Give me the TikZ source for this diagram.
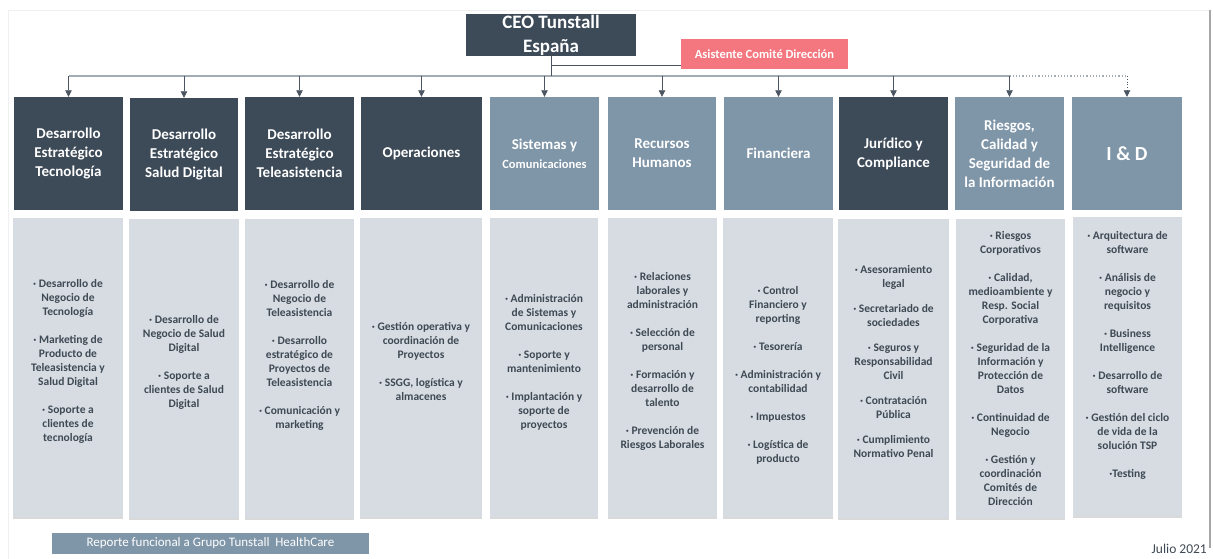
\documentclass[tikz,border=0pt]{standalone}
\usepackage{fontspec}
\setmainfont{Carlito}
\usetikzlibrary{arrows.meta,shadows}
\definecolor{tdark}{HTML}{3D4A58}
\definecolor{tlight}{HTML}{7F95A8}
\definecolor{tbody}{HTML}{D6DCE2}
\definecolor{ttext}{HTML}{3F4954}
\definecolor{tline}{HTML}{4A5561}
\definecolor{tbus}{HTML}{A3ABB3}
\definecolor{tsalmon}{HTML}{F4777F}

\begin{document}
\begin{tikzpicture}[x=1pt,y=-1pt,
	hd/.style={minimum height=113pt, inner sep=0pt, align=center, text=white, font=\bfseries\fontsize{15}{19}\selectfont},
	hdark/.style={hd, fill=tdark},
	hlight/.style={hd, fill=tlight},
	body/.style={fill=tbody, minimum height=299pt, inner sep=0pt,
		drop shadow={shadow xshift=0pt, shadow yshift=-2pt, opacity=0.3}},
	bodytext/.style={inner sep=0pt, align=center, text=ttext, font=\bfseries\fontsize{11.5}{14}\selectfont},
	link/.style={draw=tline, line width=0.8pt},
	arr/.style={link, -{Triangle[width=6.5pt,length=6.5pt]}},
	bus/.style={draw=tbus, line width=1.6pt},
	dotbus/.style={draw=tbus, line width=1.2pt, dotted}]
	\useasboundingbox (0,0) rectangle (1213,559);
	%\draw[help lines] (0,0) grid[step=50] (1213,559);
	\draw[gray!12] (1210,10) -- (8,10) -- (8,559);
	\draw[gray!70, line width=1.2pt] (1210,10) -- (1210,548);

	\node[fill=tdark, text=white, minimum width=170pt, minimum height=42pt, inner sep=0pt, align=center,
		font=\bfseries\fontsize{19}{23}\selectfont] (ceo) at (551,35) {CEO Tunstall\\[1pt]España};
	\node[fill=tsalmon, text=white, minimum width=167pt, minimum height=30pt, inner sep=0pt,
		font=\bfseries\fontsize{12.5}{14}\selectfont] (asis) at (764.5,54) {Asistente Comité Dirección};

	\node[hdark, minimum width=109pt] (h1) at (68.5,153.5) {Desarrollo\\Estratégico\\Tecnología};
	\node[hdark, minimum width=108pt] (h2) at (184,154.5) {Desarrollo\\Estratégico\\Salud Digital};
	\node[hdark, minimum width=109pt] (h3) at (299.5,153.5) {Desarrollo\\Estratégico\\Teleasistencia};
	\node[hdark, minimum width=121pt] (h4) at (421.5,153.5) {Operaciones};
	\node[hlight, minimum width=109pt] (h5) at (544.5,153.5) {Sistemas y\\{\fontsize{12.5}{16}\selectfont Comunicaciones}};
	\node[hlight, minimum width=108pt] (h6) at (662,153.5) {Recursos\\Humanos};
	\node[hlight, minimum width=109pt] (h7) at (778.5,153.5) {Financiera};
	\node[hdark, minimum width=109pt] (h8) at (893.5,153.5) {Jurídico y\\Compliance};
	\node[hlight, minimum width=109pt] (h9) at (1009.5,153.5) {Riesgos,\\Calidad y\\Seguridad de\\la Información};
	\node[hlight, minimum width=110pt, font=\bfseries\fontsize{20}{24}\selectfont] (h10) at (1127,153.5) {I \& D};

	\node[body, minimum width=110pt] (c1) at (68,367) {};
	\node[body, minimum width=110pt] (c2) at (184,368) {};
	\node[body, minimum width=109pt] (c3) at (299.5,368) {};
	\node[body, minimum width=122pt] (c4) at (421,367) {};
	\node[body, minimum width=108pt] (c5) at (544,367) {};
	\node[body, minimum width=109pt] (c6) at (662.5,367) {};
	\node[body, minimum width=110pt] (c7) at (778,367.5) {};
	\node[body, minimum width=111pt] (c8) at (893.5,368) {};
	\node[body, minimum width=109pt] (c9) at (1010.5,368) {};
	\node[body, minimum width=109pt] (c10) at (1127.5,366.5) {};

	\node[bodytext] (t1) at (68,361) {· Desarrollo de\\Negocio de\\Tecnología\\[14pt]
		· Marketing de\\Producto de\\Teleasistencia y\\Salud Digital\\[14pt]
		· Soporte a\\clientes de\\tecnología};
	\node[bodytext] (t2) at (184,362) {· Desarrollo de\\Negocio de Salud\\Digital\\[14pt]
		· Soporte a\\clientes de Salud\\Digital};
	\node[bodytext] (t3) at (299.5,355) {· Desarrollo de\\Negocio de\\Teleasistencia\\[14pt]
		· Desarrollo\\estratégico de\\Proyectos de\\Teleasistencia\\[14pt]
		· Comunicación y\\marketing};
	\node[bodytext] (t4) at (421,361.5) {· Gestión operativa y\\coordinación de\\Proyectos\\[14pt]
		· SSGG, logística y\\almacenes};
	\node[bodytext] (t5) at (544,362) {· Administración\\de Sistemas y\\Comunicaciones\\[14pt]
		· Soporte y\\mantenimiento\\[14pt]
		· Implantación y\\soporte de\\proyectos};
	\node[bodytext] (t6) at (662.5,361.5) {· Relaciones\\laborales y\\administración\\[14pt]
		· Selección de\\personal\\[14pt]
		· Formación y\\desarrollo de\\talento\\[14pt]
		· Prevención de\\Riesgos Laborales};
	\node[bodytext] (t7) at (778,375.5) {· Control\\Financiero y\\reporting\\[14pt]
		· Tesorería\\[14pt]
		· Administración y\\contabilidad\\[14pt]
		· Impuestos\\[14pt]
		· Logística de\\producto};
	\node[bodytext] (t8) at (893.5,362) {· Asesoramiento\\legal\\[11pt]
		· Secretariado de\\sociedades\\[11pt]
		· Seguros y\\Responsabilidad\\Civil\\[11pt]
		· Contratación\\Pública\\[11pt]
		· Cumplimiento\\Normativo Penal};
	\node[bodytext] (t9) at (1010.5,369) {· Riesgos\\Corporativos\\[14pt]
		· Calidad,\\medioambiente y\\Resp. Social\\Corporativa\\[14pt]
		· Seguridad de la\\Información y\\Protección de\\Datos\\[14pt]
		· Continuidad de\\Negocio\\[14pt]
		· Gestión y\\coordinación\\Comités de\\Dirección};
	\node[bodytext] (t10) at (1127.5,355) {· Arquitectura de\\software\\[14pt]
		· Análisis de\\negocio y\\requisitos\\[14pt]
		· Business\\Intelligence\\[14pt]
		· Desarrollo de\\software\\[14pt]
		· Gestión del ciclo\\de vida de la\\solución TSP\\[14pt]
		·Testing};

	\node[fill=tlight, text=white, minimum width=317pt, minimum height=21pt, inner sep=0pt,
		font=\fontsize{13}{15}\selectfont] (rep) at (210.5,543.5) {Reporte funcional a Grupo Tunstall\ \ HealthCare};
	\node[anchor=east, inner sep=0pt, text=ttext, font=\fontsize{13.5}{15}\selectfont] (fecha) at (1207,549) {Julio 2021};

	% lineas
	\coordinate (bus) at (551,76);
	\coordinate (b1) at (h1.north |- bus);
	\coordinate (b2) at (h2.north |- bus);
	\coordinate (b3) at (h3.north |- bus);
	\coordinate (b4) at (h4.north |- bus);
	\coordinate (b5) at (h5.north |- bus);
	\coordinate (b6) at (h6.north |- bus);
	\coordinate (b7) at (h7.north |- bus);
	\coordinate (b8) at (h8.north |- bus);
	\coordinate (b9) at (h9.north |- bus);
	\coordinate (b10) at (h10.north |- bus);
	\coordinate (asisin) at ([yshift=-11pt]asis.west);
	\draw[bus] (b1) -- (b9);
	\draw[dotbus] (b9) -- (b10);
	\draw[link] (ceo.south) -- (bus);
	\draw[link] (asisin) -- (asisin -| ceo.south);
	\draw[arr] (b1) -- (h1);
	\draw[arr] (b2) -- (h2);
	\draw[arr] (b3) -- (h3);
	\draw[arr] (b4) -- (h4);
	\draw[arr] (b5) -- (h5);
	\draw[arr] (b6) -- (h6);
	\draw[arr] (b7) -- (h7);
	\draw[arr] (b8) -- (h8);
	\draw[arr] (b9) -- (h9);
	\draw[arr, dotted] (b10) -- (h10);
\end{tikzpicture}
\end{document}
